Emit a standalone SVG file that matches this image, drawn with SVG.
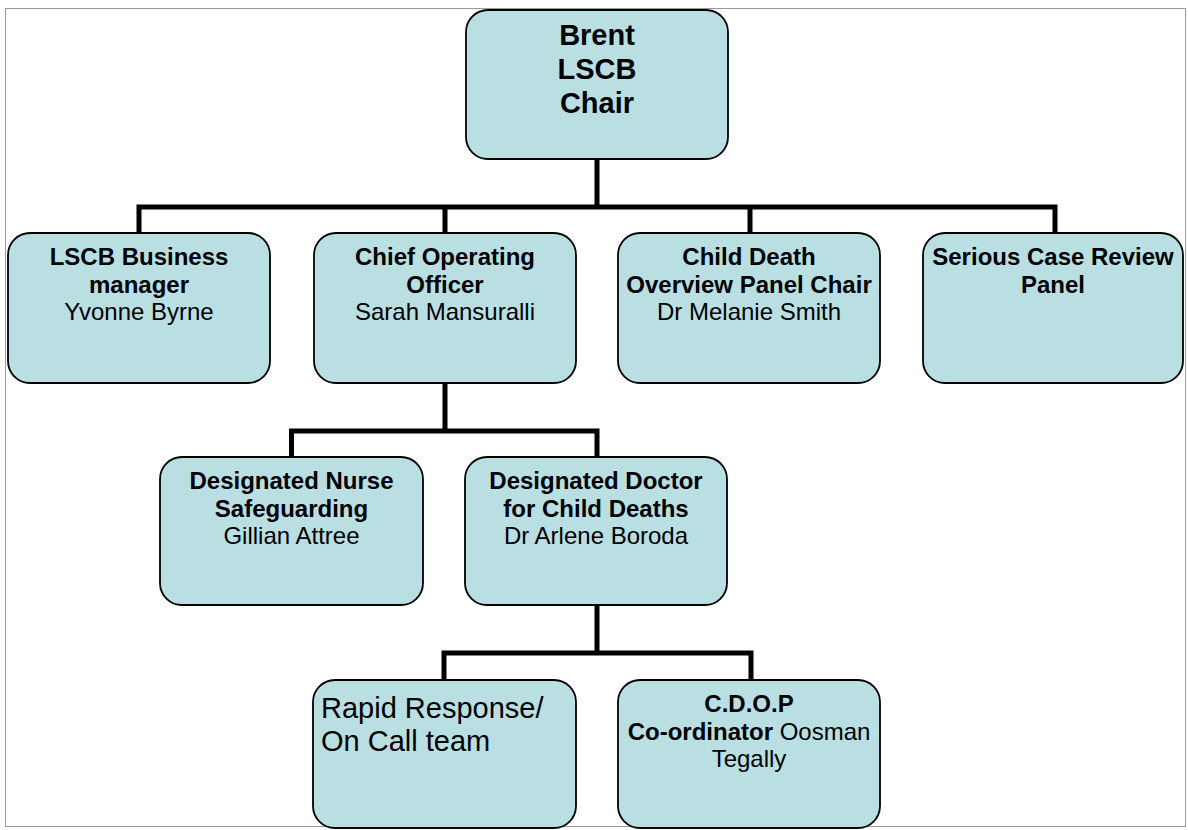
<svg xmlns="http://www.w3.org/2000/svg" width="1188" height="830" viewBox="0 0 1188 830">
<style>
.box{fill:#B9DFE3;stroke:#000;stroke-width:1.8}
.conn{fill:none;stroke:#000;stroke-width:5}
text{font-family:"Liberation Sans",Arial,sans-serif;fill:#000}
.t{font-size:24px;text-anchor:middle}
.b{font-weight:bold}
.title{font-size:29px;font-weight:bold;text-anchor:middle}
</style>
<rect width="1188" height="830" fill="#fff"/>
<rect x="5.5" y="8.5" width="1180" height="818" fill="none" stroke="#333" stroke-width="1" stroke-dasharray="1,1"/>
<g id="connectors">
<path class="conn" d="M597 159V207M139 233V207H1055V233M445 207V233M750 207V233"/>
<path class="conn" d="M445 383V431M291.5 457V431H597V457"/>
<path class="conn" d="M597 605V653M444 680V653H751V680"/>
</g>
<g id="chair">
<rect class="box" x="466" y="10" width="262" height="149" rx="22"/>
<text class="title" x="597" y="45">Brent</text>
<text class="title" x="597" y="79">LSCB</text>
<text class="title" x="597" y="113">Chair</text>
</g>
<g id="business-manager">
<rect class="box" x="8" y="233" width="262" height="150" rx="22"/>
<text class="t b" x="139" y="265">LSCB Business</text>
<text class="t b" x="139" y="292.5">manager</text>
<text class="t" x="139" y="320">Yvonne Byrne</text>
</g>
<g id="chief-operating-officer">
<rect class="box" x="314" y="233" width="262" height="150" rx="22"/>
<text class="t b" x="445" y="265">Chief Operating</text>
<text class="t b" x="445" y="292.5">Officer</text>
<text class="t" x="445" y="320">Sarah Mansuralli</text>
</g>
<g id="cdop-chair">
<rect class="box" x="618" y="233" width="262" height="150" rx="22"/>
<text class="t b" x="749" y="265">Child Death</text>
<text class="t b" x="749" y="292.5">Overview Panel Chair</text>
<text class="t" x="749" y="320">Dr Melanie Smith</text>
</g>
<g id="serious-case-review">
<rect class="box" x="923" y="233" width="260" height="150" rx="22"/>
<text class="t b" x="1053" y="265">Serious Case Review</text>
<text class="t b" x="1053" y="292.5">Panel</text>
</g>
<g id="designated-nurse">
<rect class="box" x="160" y="457" width="263" height="148" rx="22"/>
<text class="t b" x="291.5" y="489">Designated Nurse</text>
<text class="t b" x="291.5" y="516.5">Safeguarding</text>
<text class="t" x="291.5" y="544">Gillian Attree</text>
</g>
<g id="designated-doctor">
<rect class="box" x="465" y="457" width="262" height="148" rx="22"/>
<text class="t b" x="596" y="489">Designated Doctor</text>
<text class="t b" x="596" y="516.5">for Child Deaths</text>
<text class="t" x="596" y="544">Dr Arlene Boroda</text>
</g>
<g id="rapid-response">
<rect class="box" x="313" y="680" width="263" height="148" rx="22"/>
<text x="321" y="717.5" font-size="29">Rapid Response/</text>
<text x="321" y="751" font-size="29">On Call team</text>
</g>
<g id="cdop-coordinator">
<rect class="box" x="618" y="680" width="262" height="148" rx="22"/>
<text class="t b" x="749" y="712">C.D.O.P</text>
<text class="t" x="749" y="739.5"><tspan font-weight="bold">Co-ordinator</tspan> Oosman</text>
<text class="t" x="749" y="767">Tegally</text>
</g>
</svg>
